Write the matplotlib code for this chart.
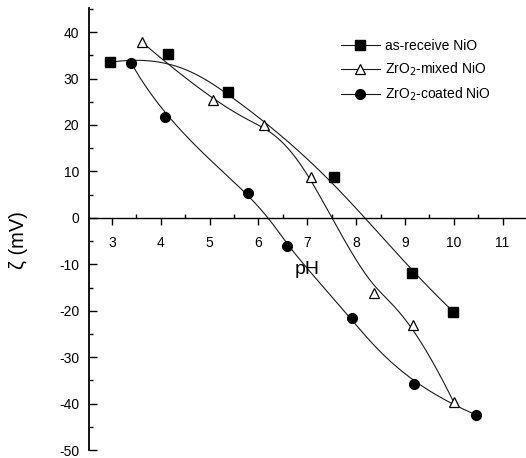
import numpy as np
import matplotlib
matplotlib.use("Agg")
import matplotlib.pyplot as plt
from matplotlib.ticker import MultipleLocator

plt.rcParams['font.family'] = ['Liberation Sans', 'DejaVu Sans']
plt.rcParams['axes.unicode_minus'] = False

# Data
ph_recv = [2.95, 4.14, 5.38, 7.54, 9.15, 9.99]
zeta_recv = [33.5, 35.3, 27.2, 8.8, -11.9, -20.2]

ph_mixed = [3.62, 5.06, 6.11, 7.07, 8.36, 9.17, 10.0]
zeta_mixed = [37.8, 25.3, 19.9, 8.7, -16.1, -23.1, -39.7]

ph_coated = [3.40, 4.09, 5.79, 6.59, 7.91, 9.18, 10.45]
zeta_coated = [33.3, 21.8, 5.45, -6.0, -21.6, -35.8, -42.4]

labels = ['as-receive NiO', 'ZrO$_2$-mixed NiO', 'ZrO$_2$-coated NiO']
x_ticks = [3, 4, 5, 6, 7, 8, 9, 10, 11]
y_ticks = [-50, -40, -30, -20, -10, 0, 10, 20, 30, 40]


def basis(m, u, k=3):
    t = np.array([0.0] * (k + 1) + list(range(1, m - k)) + [float(m - k)] * (k + 1))
    n = len(u)
    N = np.zeros((n, len(t) - 1))
    for i in range(len(t) - 1):
        N[:, i] = (t[i] <= u) & (u < t[i + 1])
    last = max(i for i in range(len(t) - 1) if t[i] < t[i + 1])
    N[u >= t[-1], last] = 1.0
    for d in range(1, k + 1):
        Nn = np.zeros((n, len(t) - 1 - d))
        for i in range(len(t) - 1 - d):
            a = t[i + d] - t[i]
            b = t[i + d + 1] - t[i + 1]
            term = np.zeros(n)
            if a > 0:
                term += (u - t[i]) / a * N[:, i]
            if b > 0:
                term += (t[i + d + 1] - u) / b * N[:, i + 1]
            Nn[:, i] = term
        N = Nn
    return N, t


def smooth_curve(xs, ys, relax=0.0, iters=0, n=400, k=3):
    D = np.column_stack([xs, ys]).astype(float)
    m = len(D)
    _, t = basis(m, np.array([0.0]), k)
    grev = np.array([t[i + 1:i + k + 1].mean() for i in range(m)])
    Ng, _ = basis(m, grev, k)
    P = D.copy()
    for _ in range(iters):
        P = P + relax * (D - Ng @ P)
    u = np.linspace(0, m - k, n)
    N, _ = basis(m, u, k)
    c = N @ P
    return c[:, 0], c[:, 1]


fig = plt.figure(figsize=(5.26, 4.58), dpi=100)
ax = fig.add_axes([89 / 526, 8 / 458, 438 / 526, 442 / 458])

lc = '#1a1a1a'
series = [
    (ph_recv, zeta_recv, dict(relax=0.0, iters=0), dict(marker='s', ms=6.5, mfc='black', mec='black')),
    (ph_mixed, zeta_mixed, dict(relax=0.5, iters=2), dict(marker='^', ms=7.5, mfc='white', mec='black', mew=0.9)),
    (ph_coated, zeta_coated, dict(relax=0.5, iters=2), dict(marker='o', ms=7, mfc='black', mec='black')),
]
handles = []
for (xs, ys, sm, mk), lab in zip(series, labels):
    cx, cy = smooth_curve(xs, ys, **sm)
    ax.plot(cx, cy, color=lc, lw=0.8, zorder=2)
    ax.plot(xs, ys, ls='none', zorder=3, **mk)
    h, = ax.plot([], [], color=lc, lw=0.8, **mk)
    handles.append(h)

ax.set_xlim(2.53, 11.5)
ax.set_ylim(-50, 45.2)

for s in ['top', 'right']:
    ax.spines[s].set_visible(False)
ax.spines['bottom'].set_position(('data', 0))
ax.spines['left'].set_linewidth(1.3)
ax.spines['bottom'].set_linewidth(1.0)

ax.set_xticks(x_ticks)
ax.set_yticks(y_ticks)
ax.xaxis.set_minor_locator(MultipleLocator(0.5))
ax.yaxis.set_minor_locator(MultipleLocator(5))
ax.tick_params(axis='x', which='major', direction='out', length=5, width=1, pad=8, labelsize=10)
ax.tick_params(axis='x', which='minor', direction='in', length=3, width=1)
ax.tick_params(axis='y', which='major', direction='in', length=6, width=1, pad=7, labelsize=10)
ax.tick_params(axis='y', which='minor', direction='in', length=3, width=1)

ax.text(7.0, -11.2, 'pH', ha='center', va='center', fontsize=14)
fig.text(18 / 526, 1 - 240 / 458, 'ζ (mV)', rotation=90, ha='center', va='center', fontsize=14.5)

leg = ax.legend(handles, labels, loc='upper left', bbox_to_anchor=(341 / 526, 1 - 39 / 458),
                bbox_transform=fig.transFigure, frameon=False, fontsize=10,
                handlelength=2.8, handletextpad=0.36, labelspacing=0.55,
                borderpad=0, borderaxespad=0)

fig.savefig('out.png', dpi=100)
